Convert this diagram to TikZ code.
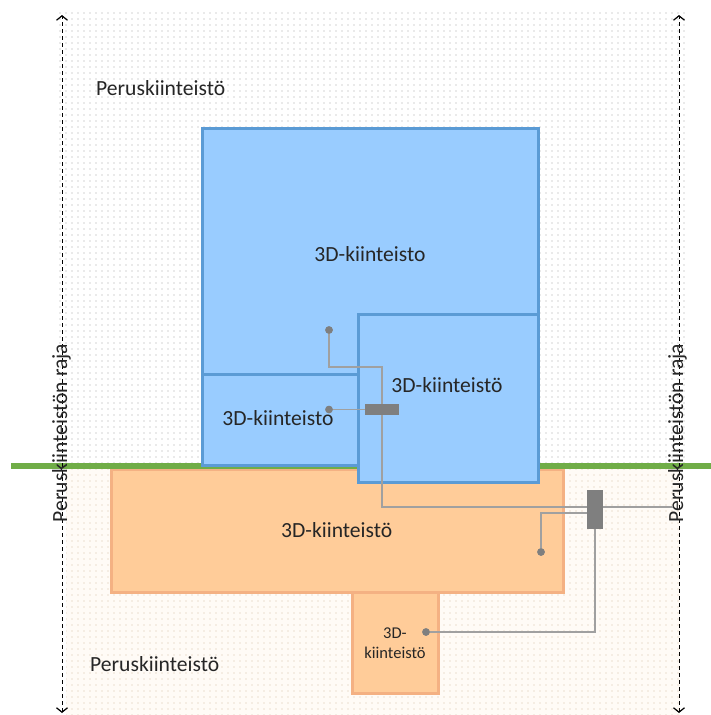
\documentclass[tikz,border=0pt]{standalone}
\usepackage{fontspec}
\setmainfont{Carlito}
\usetikzlibrary{arrows.meta,patterns.meta}
\definecolor{bfill}{HTML}{99CCFF}
\definecolor{bline}{HTML}{5B9BD5}
\definecolor{ofill}{HTML}{FFCC99}
\definecolor{oline}{HTML}{F4B183}
\definecolor{grn}{HTML}{70AD47}
\definecolor{conn}{HTML}{A0A0A0}
\definecolor{knob}{HTML}{7F7F7F}
\definecolor{cream}{HTML}{FFFBF6}
\definecolor{txt}{HTML}{262626}
\definecolor{dotgray}{HTML}{A8A8A8}
\definecolor{dotorange}{HTML}{D8C0A8}
\begin{document}
\begin{tikzpicture}[x=1pt,y=-1pt,
  bluebox/.style={fill=bfill,draw=bline,line width=3pt},
  orangebox/.style={fill=ofill,draw=oline,line width=3pt},
  lbl/.style={font=\fontsize{21.6}{26}\selectfont,text=txt,inner sep=0pt},
  smalllbl/.style={font=\fontsize{16.5}{20}\selectfont,text=txt,inner sep=0pt,align=center},
  connline/.style={draw=conn,line width=1.3pt},
  knobdot/.style={circle,fill=knob,minimum size=7.5pt,inner sep=0pt},
  joint/.style={fill=knob,inner sep=0pt},
  borderline/.style={draw=black,line width=1pt,dash pattern=on 4pt off 3pt,
    {Straight Barb[length=4.5pt,width=11pt,line width=1.2pt]}-{Straight Barb[length=4.5pt,width=11pt,line width=1.2pt]}},
]
\useasboundingbox (0,0) rectangle (711,715);
% backgrounds
\fill[white] (0,0) rectangle (711,715);
\fill[pattern={Dots[distance=6pt,radius=0.6pt]},pattern color=dotgray] (55,12) rectangle (688,466);
\fill[cream] (66,466) rectangle (680,715);
\fill[pattern={Dots[distance=6pt,radius=0.6pt]},pattern color=dotorange] (66,466) rectangle (680,715);

% orange parcels
\draw[orangebox] (352,591) rectangle (438,693);
\draw[orangebox] (111,469) rectangle (563,592);

% ground line
\draw[grn,line width=6pt] (11,466) -- (711,466);

% blue parcels
\draw[bluebox] (202,128) rectangle (538,465);
\draw[bluebox] (202,374) rectangle (358,465);
\draw[bluebox] (358,314) rectangle (538,482);

% boundary lines
\coordinate (lt) at (62,15);
\coordinate (lb) at (62,713);
\coordinate (rt) at (679,15);
\coordinate (rb) at (679,713);
\draw[borderline] (lb) -- (lt);
\draw[borderline] (rb) -- (rt);

% labels
\node[lbl,anchor=base west] (p1) at (96,95) {Peruskiinteistö};
\node[lbl,anchor=base west] (p2) at (90,671) {Peruskiinteistö};
\node[lbl,anchor=base] (b1) at (370,261) {3D-kiinteisto};
\node[lbl,anchor=base] (b2) at (447,392) {3D-kiinteistö};
\node[lbl,anchor=base] (b3) at (278,425) {3D-kiinteisto};
\node[lbl,anchor=base west] (o1) at (281,537) {3D-kiinteistö};
\node[smalllbl] (o2) at (395,643) {3D-\\kiinteistö};
\node[lbl,rotate=90] (rl) at (61.5,433) {Peruskiinteistön raja};
\node[lbl,rotate=90] (rr) at (677.5,433) {Peruskiinteistön raja};

% connector nodes
\node[knobdot] (d1) at (329,330) {};
\node[knobdot] (d2) at (329,409.5) {};
\node[knobdot] (d3) at (541,552) {};
\node[knobdot] (d4) at (426,632) {};
\coordinate (c1) at (382,367);
\coordinate (e1) at (673,507);
\node[joint,minimum width=34pt,minimum height=11pt] (g1) at (382,409.5) {};
\node[joint,minimum width=16pt,minimum height=39pt] (g2) at (595,509.5) {};

% connectors
\draw[connline] (d1.center) |- (c1) |- (e1);
\draw[connline] (d2.center) -- (g1.west);
\draw[connline] ([yshift=-3.5pt]g2.west) -| (d3.center);
\draw[connline] (g2.south) |- (d4.center);
% junction boxes and dots on top of the lines
\node[joint,minimum width=34pt,minimum height=11pt] at (g1) {};
\node[joint,minimum width=16pt,minimum height=39pt] at (g2) {};
\node[knobdot] at (d1) {};
\node[knobdot] at (d2) {};
\node[knobdot] at (d3) {};
\node[knobdot] at (d4) {};
\end{tikzpicture}
\end{document}
